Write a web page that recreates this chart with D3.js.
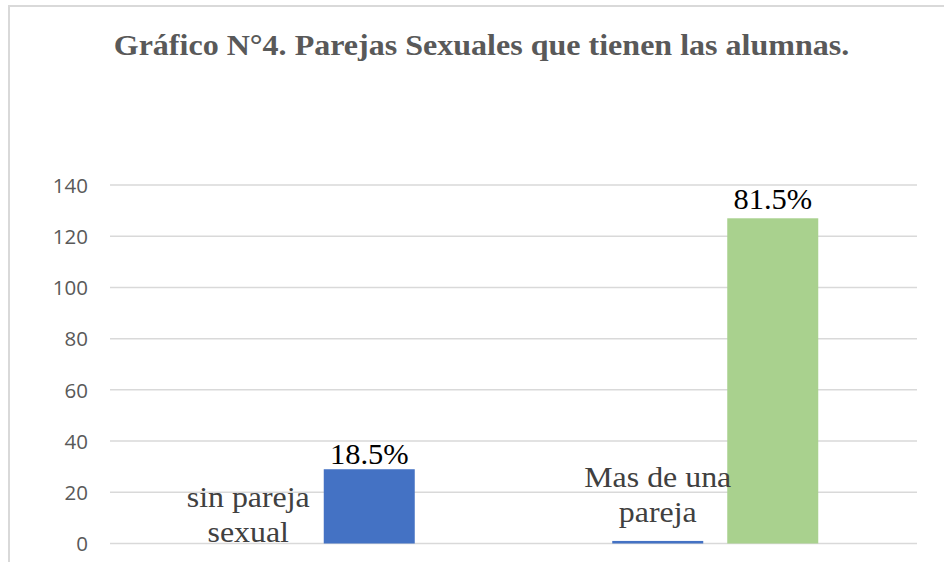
<!DOCTYPE html>
<html>
<head>
<meta charset="utf-8">
<script src="https://cdn.jsdelivr.net/npm/d3@7"></script>
<style>
  html, body { margin: 0; padding: 0; background: #fff; }
  svg { display: block; }
</style>
</head>
<body>
<svg id="chart" width="944" height="562"></svg>
<script>
// ---- data ----
const categories = ["sin pareja sexual", "Mas de una pareja"];
const categoryLines = [["sin pareja", "sexual"], ["Mas de una", "pareja"]];
const seriesA = [0, 1];      // first slot of each group
const seriesB = [29, 127];   // second slot of each group
const seriesAColors = ["#4472C4", "#4472C4"];
const seriesBColors = ["#4472C4", "#A9D18E"];
const percentLabels = ["18.5%", "81.5%"];
const yTicks = [0, 20, 40, 60, 80, 100, 120, 140];
const title = "Gráfico N°4. Parejas Sexuales que tienen las alumnas.";

// ---- layout ----
const W = 944, H = 562;
const plot = { left: 110, right: 917, top: 185, bottom: 543.5 };
const catLabelBaseline = [507, 487];
const catLabelDx = [-6, 0];
const pctGap = [5, 9];
const serif = "'Liberation Serif', 'Times New Roman', serif";

const svg = d3.select("#chart");
svg.append("rect").attr("width", W).attr("height", H).attr("fill", "#fff");

// frame (top and left edges visible)
svg.append("path")
  .attr("d", `M9,${H} L9,6 L${W},6`)
  .attr("fill", "none").attr("stroke", "#D9D9D9").attr("stroke-width", 2);

// title (slightly wide-set like the original)
svg.append("g").attr("transform", "translate(481.5,54.5) scale(1.105,1)")
  .append("text")
  .attr("x", 0).attr("y", 0)
  .attr("text-anchor", "middle")
  .attr("font-family", serif)
  .attr("font-weight", "bold")
  .attr("font-size", 29)
  .attr("fill", "#595959")
  .text(title);

// scales
const y = d3.scaleLinear().domain([0, 140]).range([plot.bottom, plot.top]);
const x0 = d3.scaleBand().domain(categories).range([plot.left, plot.right]).padding(0);
const x1 = d3.scaleBand().domain(["a", "b"]).range([0, x0.bandwidth()])
  .paddingInner(0.2087).paddingOuter(0.8587);

// gridlines
svg.append("g").selectAll("line").data(yTicks).join("line")
  .attr("x1", plot.left).attr("x2", plot.right)
  .attr("y1", d => y(d)).attr("y2", d => y(d))
  .attr("stroke", "#D9D9D9").attr("stroke-width", 1.5);

// y axis labels
const yAxis = d3.axisLeft(y).tickValues(yTicks).tickSize(0).tickPadding(0);
const gy = svg.append("g").attr("transform", "translate(88,0)").call(yAxis);
gy.select(".domain").remove();
gy.selectAll("text")
  .attr("font-family", "'Open Sans', sans-serif")
  .attr("font-size", 20.5)
  .attr("fill", "#595959")
  .attr("dy", "0.35em");

// bars
const groups = svg.append("g").selectAll("g").data(categories).join("g")
  .attr("transform", d => `translate(${x0(d)},0)`);

groups.append("rect")
  .attr("x", x1("a")).attr("width", x1.bandwidth())
  .attr("y", (d, i) => y(seriesA[i]))
  .attr("height", (d, i) => y(0) - y(seriesA[i]))
  .attr("fill", (d, i) => seriesAColors[i]);

groups.append("rect")
  .attr("x", x1("b")).attr("width", x1.bandwidth())
  .attr("y", (d, i) => y(seriesB[i]))
  .attr("height", (d, i) => y(0) - y(seriesB[i]))
  .attr("fill", (d, i) => seriesBColors[i]);

// percent labels
groups.append("g")
  .attr("transform", (d, i) => `translate(${x1("b") + x1.bandwidth() / 2},${y(seriesB[i]) - pctGap[i]}) scale(1.05,1)`)
  .append("text")
  .attr("text-anchor", "middle")
  .attr("font-family", serif)
  .attr("font-size", 29)
  .attr("fill", "#000")
  .text((d, i) => percentLabels[i]);

// category labels (placed over the first slot)
groups.each(function (d, i) {
  const t = d3.select(this).append("g")
    .attr("transform", `translate(${x1("a") + x1.bandwidth() / 2 + catLabelDx[i]},0) scale(1.1,1)`)
    .append("text")
    .attr("text-anchor", "middle")
    .attr("font-family", serif)
    .attr("font-size", 29)
    .attr("fill", "#404040");
  categoryLines[i].forEach((line, k) => {
    t.append("tspan")
      .attr("x", 0)
      .attr("y", catLabelBaseline[i] + k * 35)
      .text(line);
  });
});
</script>
</body>
</html>
